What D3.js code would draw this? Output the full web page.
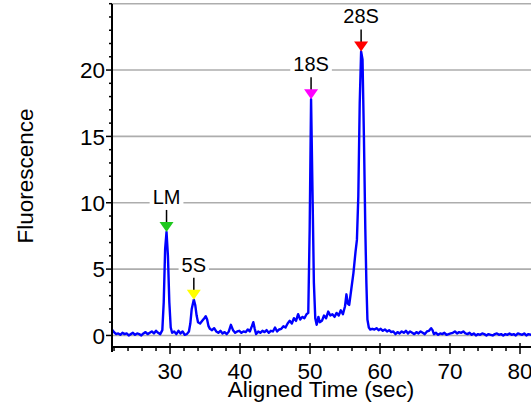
<!DOCTYPE html>
<html>
<head>
<meta charset="utf-8">
<script src="https://cdn.jsdelivr.net/npm/d3@7"></script>
<style>
  html, body { margin: 0; padding: 0; background: #ffffff; }
  svg { display: block; }
  text { font-family: "Liberation Sans", Arial, sans-serif; fill: #000; }
</style>
</head>
<body>
<svg id="chart" width="531" height="406"></svg>
<script>
// ---- data ----
const timeSec = [
  21.7,22.0,22.3,22.6,22.9,23.2,23.5,23.8,24.1,24.4,24.7,25.0,25.3,25.6,25.9,26.2,26.5,26.8,27.1,27.4,27.7,28.0,28.3,28.6,28.9,
  29.1,29.3,29.5,29.7,29.9,30.1,30.3,30.6,30.9,31.2,31.5,31.8,32.1,32.4,32.7,32.9,33.1,33.4,33.6,33.8,34.0,34.3,34.6,34.9,35.1,
  35.3,35.5,35.7,36.0,36.3,36.6,36.9,37.2,37.5,37.8,38.1,38.4,38.7,39.0,39.3,39.6,39.9,40.2,40.5,40.8,41.1,41.4,41.7,41.9,42.1,
  42.3,42.6,42.9,43.2,43.5,43.8,44.1,44.4,44.7,45.0,45.3,45.6,45.9,46.2,46.5,46.8,47.1,47.4,47.7,48.0,48.3,48.6,48.9,49.2,49.5,
  49.75,49.95,50.15,50.35,50.55,50.75,50.95,51.2,51.4,51.7,52.0,52.3,52.6,52.9,53.2,53.5,53.8,54.1,54.4,54.7,55.0,55.2,55.4,55.6,55.9,
  56.2,56.5,56.7,56.9,57.1,57.3,57.5,57.7,57.9,58.05,58.2,58.4,58.6,58.9,59.2,59.5,59.8,60.1,60.4,60.7,61.0,61.3,61.6,61.9,62.2,
  62.5,62.8,63.1,63.4,63.7,64.0,64.3,64.6,64.9,65.2,65.5,65.8,66.1,66.4,66.7,67.0,67.3,67.5,67.7,68.0,68.3,68.6,68.9,69.2,69.5,
  69.8,70.1,70.4,70.7,71.0,71.3,71.6,71.9,72.2,72.5,72.8,73.1,73.4,73.7,74.0,74.3,74.6,74.9,75.2,75.5,75.8,76.1,76.4,76.7,77.0,
  77.3,77.6,77.9,78.2,78.5,78.8,79.1,79.4,79.7,80.0,80.3,80.6,80.9,81.2,81.6
];
const fluorescence = [
  0.45,0.25,0.10,0.15,0.05,0.20,0.10,0.15,0.00,0.10,0.20,0.05,0.15,0.10,0.00,0.15,0.25,0.10,0.20,0.30,0.15,0.35,0.20,0.10,0.40,
  2.5,6.5,7.8,6.0,2.5,0.6,0.2,0.3,0.1,0.35,0.15,0.30,0.05,0.10,0.30,0.9,2.0,2.7,2.3,1.5,1.0,0.9,1.1,1.3,1.45,
  1.2,0.7,0.5,0.4,0.55,0.3,0.2,0.35,0.15,0.25,0.10,0.30,0.80,0.40,0.20,0.30,0.35,0.20,0.30,0.25,0.45,0.30,0.70,1.00,0.50,
  0.10,0.30,0.20,0.35,0.25,0.40,0.20,0.35,0.30,0.60,0.30,0.45,0.50,0.70,0.60,0.90,1.10,0.90,1.30,1.10,1.60,1.20,1.40,1.30,1.60,
  1.70,8.0,17.8,11.0,4.0,1.3,0.8,1.4,1.0,1.1,1.5,1.3,1.8,1.5,1.6,1.4,1.7,1.5,1.9,1.6,2.2,3.1,2.4,2.3,3.5,
  4.7,6.3,7.2,10.5,17.5,21.4,20.8,15.0,8.0,4.0,1.2,0.6,0.45,0.5,0.45,0.55,0.4,0.5,0.35,0.45,0.3,0.4,0.25,0.3,0.1,
  0.25,0.15,0.3,0.2,0.35,0.15,0.3,0.2,0.1,0.25,0.15,0.3,0.2,0.1,0.3,0.35,0.55,0.4,0.1,0.2,0.05,0.15,0.1,0.2,0.05,
  0.1,0.15,0.2,0.3,0.15,0.25,0.2,0.3,0.15,0.1,0.2,0.05,0.15,0.0,0.1,0.05,0.15,0.1,0.0,0.1,0.05,0.0,0.1,0.15,0.05,
  0.1,0.0,0.1,0.05,0.15,0.05,0.1,0.0,0.15,0.1,0.05,0.15,0.0,0.1,0.05
];
const peakLabels = ["LM", "5S", "18S", "28S"];
const peakTimes  = [29.5, 33.4, 50.15, 57.3];
const peakValues = [7.8, 2.7, 17.8, 21.4];
const peakColors = ["#1ec81e", "#ffff00", "#ff00ff", "#ff0000"];
const yMajorTicks = [0, 5, 10, 15, 20];
const yGridTicks  = [0, 5, 10, 15, 20, 25];
const xMajorTicks = [30, 40, 50, 60, 70, 80];
const xTitle = "Aligned Time (sec)";
const yTitle = "Fluorescence";

// ---- layout ----
const W = 531, H = 406;
const mLeft = 112, mRight = 531, mTop = 4, mBottom = 347;
const x = d3.scaleLinear().domain([21.71, 81.57]).range([mLeft, mRight]);
const y = d3.scaleLinear().domain([-0.87, 25]).range([mBottom, 3.7]);

const svg = d3.select("#chart");
const FS = 22.5;

// gridlines
svg.append("g").selectAll("line").data(yGridTicks).join("line")
  .attr("x1", mLeft).attr("x2", mRight)
  .attr("y1", d => y(d)).attr("y2", d => y(d))
  .attr("stroke", "#adadad").attr("stroke-width", 1.6);

// trace
const pts = timeSec.map((t, i) => [t, fluorescence[i]]);
svg.append("path").datum(pts)
  .attr("fill", "none").attr("stroke", "#0000ff").attr("stroke-width", 2.4)
  .attr("stroke-linejoin", "round")
  .attr("d", d3.line().x(d => x(d[0])).y(d => y(d[1])));

// peak markers
const pk = svg.append("g").selectAll("g").data(peakLabels.map((l, i) => ({
  label: l, t: peakTimes[i], v: peakValues[i], c: peakColors[i]
}))).join("g");
pk.each(function(d) {
  const g = d3.select(this);
  const px = x(d.t), py = y(d.v);
  g.append("line").attr("x1", px).attr("x2", px).attr("y1", py - 22).attr("y2", py - 9)
    .attr("stroke", "#000").attr("stroke-width", 1.5);
  g.append("path")
    .attr("d", `M${px - 7},${py - 10}L${px + 7},${py - 10}L${px},${py}Z`)
    .attr("fill", d.c);
  const tx = g.append("text").attr("x", px).attr("y", py - 28)
    .attr("text-anchor", "middle").attr("font-size", 20).text(d.label);
  const bb = tx.node().getBBox();
  g.insert("rect", "text").attr("x", bb.x - 3).attr("y", bb.y).attr("width", bb.width + 6).attr("height", bb.height)
    .attr("fill", "#fff");
});

// y axis
svg.append("line").attr("x1", mLeft).attr("x2", mLeft).attr("y1", mTop).attr("y2", 352)
  .attr("stroke", "#000").attr("stroke-width", 2);
const yMinor = d3.range(0, 26, 1);
svg.append("g").selectAll("line").data(yMinor).join("line")
  .attr("x1", d => yMajorTicks.includes(d) ? mLeft - 6 : mLeft - 3).attr("x2", mLeft)
  .attr("y1", d => y(d)).attr("y2", d => y(d))
  .attr("stroke", "#000").attr("stroke-width", 1.5);
svg.append("g").selectAll("text").data(yMajorTicks).join("text")
  .attr("x", mLeft - 7).attr("y", d => y(d)).attr("dy", "0.36em")
  .attr("text-anchor", "end").attr("font-size", FS).text(d => d);

// x axis
svg.append("line").attr("x1", mLeft - 1).attr("x2", mRight).attr("y1", mBottom).attr("y2", mBottom)
  .attr("stroke", "#000").attr("stroke-width", 2);
const xMinor = d3.range(22, 82, 2);
svg.append("g").selectAll("line").data(xMinor).join("line")
  .attr("x1", d => x(d)).attr("x2", d => x(d))
  .attr("y1", d => d % 10 === 0 ? mBottom - 4 : mBottom)
  .attr("y2", d => d % 10 === 0 ? mBottom + 7 : mBottom + 4)
  .attr("stroke", "#000").attr("stroke-width", 1.5);
svg.append("g").selectAll("text").data(xMajorTicks).join("text")
  .attr("x", d => x(d)).attr("y", 379)
  .attr("text-anchor", "middle").attr("font-size", FS).text(d => d);

// titles
svg.append("text").attr("x", 321).attr("y", 397).attr("text-anchor", "middle")
  .attr("font-size", FS).text(xTitle);
svg.append("text").attr("transform", "translate(33,176) rotate(-90)")
  .attr("text-anchor", "middle").attr("font-size", FS).text(yTitle);
</script>
</body>
</html>
